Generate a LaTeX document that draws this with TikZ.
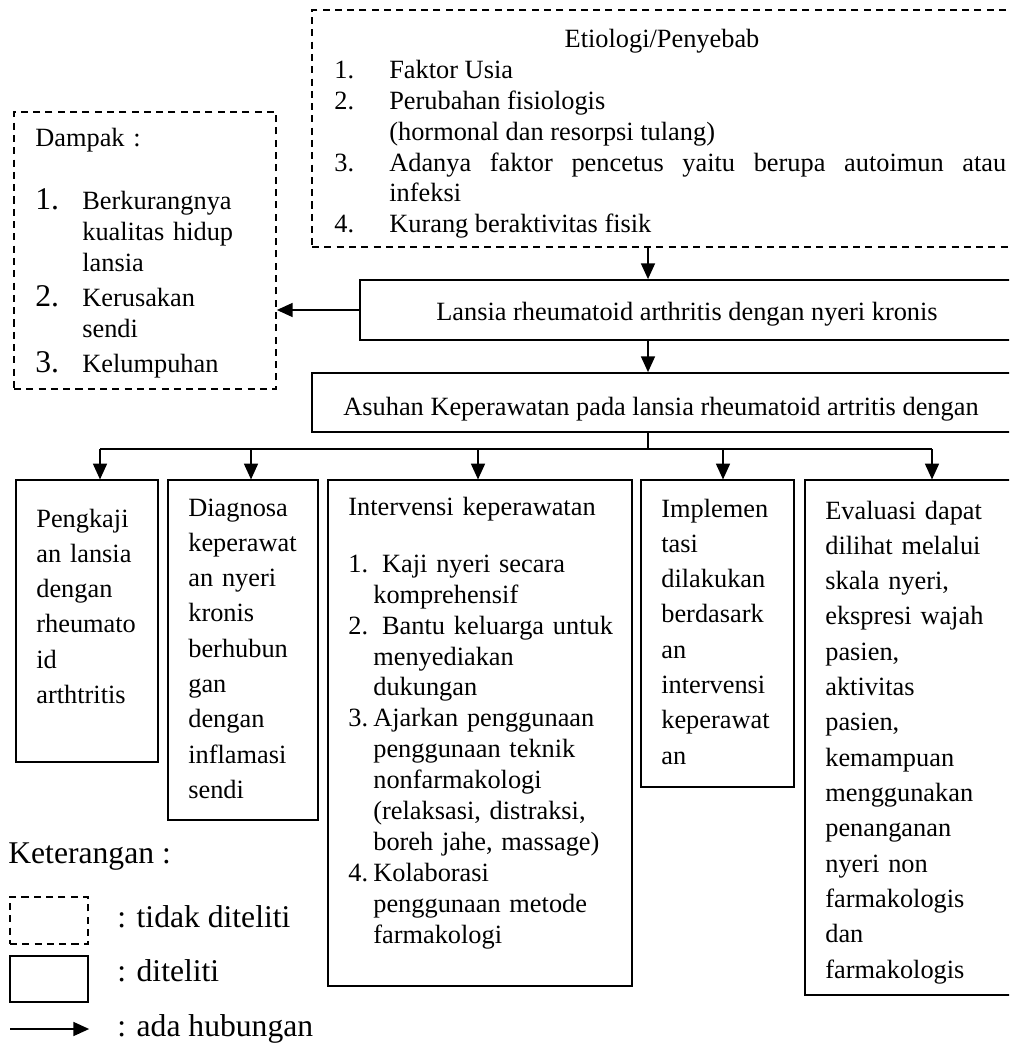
\documentclass[tikz,border=0pt]{standalone}
\usepackage{fontspec}
\setmainfont{Liberation Serif}
\usepackage{tikz}
\usetikzlibrary{arrows.meta, positioning, fit, calc}
\newcommand{\numpar}[3]{\hangindent=#1\hangafter=1\noindent\makebox[#1][l]{#2}#3\par}
\newcommand{\dnum}{\fontsize{18}{17.4}\selectfont}

\begin{document}
\begin{tikzpicture}[x=0.02cm, y=-0.02cm,
    box/.style={draw, line width=0.65pt, inner sep=0pt},
    mainbox/.style={box, line width=1pt},
    dbox/.style={box, line width=1pt, dash pattern=on 4pt off 3pt},
    lbl/.style={inner sep=0pt, font=\fontsize{15}{17.6}\selectfont},
    para/.style={anchor=base west, inner sep=0pt, align=left, font=\fontsize{15}{20.1}\selectfont},
    leg/.style={anchor=base west, inner sep=0pt, font=\fontsize{18}{21}\selectfont},
    arr/.style={-{Triangle[length=9pt, width=8pt]}, line width=0.85pt}]
  \useasboundingbox (0,0) rectangle (1009,1043);
  \clip (0,0) rectangle (1009,1043);
  % --- etiologi (not studied) ---------------------------------------
  \node[dbox, fit={(312,10) (1014,247)}] (etio) {};
  \node[lbl, anchor=base] (etiotitle) at (662,48) {Etiologi/Penyebab};
  \node[para, text width=13.44cm, align=justify, font=\fontsize{15}{17.5}\selectfont] (etiolist) at (334,79) {%
    \numpar{1.1cm}{1.}{Faktor Usia}%
    \numpar{1.1cm}{2.}{Perubahan fisiologis\newline (hormonal dan resorpsi tulang)}%
    \numpar{1.1cm}{3.}{Adanya faktor pencetus yaitu berupa autoimun atau\linebreak infeksi}%
    \numpar{1.1cm}{4.}{Kurang beraktivitas fisik}};
  % --- dampak (not studied) -----------------------------------------
  \node[dbox, fit={(14,112) (276,389)}] (dampak) {};
  \node[para, text width=4.8cm, font=\fontsize{15}{17.4}\selectfont] (dampaktext) at (35,147) {%
    \setlength{\parskip}{2.8pt}Dampak :\par\vspace{15.6pt}%
    \numpar{0.94cm}{\dnum 1.}{Berkurangnya\newline kualitas hidup\newline lansia}%
    \numpar{0.94cm}{\dnum 2.}{Kerusakan\newline sendi}%
    \numpar{0.94cm}{\dnum 3.}{Kelumpuhan}};
  % --- main chain ---------------------------------------------------
  \node[mainbox, fit={(360,280) (1014,340)}] (lansia) {};
  \node[lbl, anchor=base] (lansiatext) at (687,320) {Lansia rheumatoid arthritis dengan nyeri kronis};
  \node[mainbox, fit={(312,373) (1011,432)}] (asuhan) {};
  \node[lbl, anchor=base] (asuhantext) at (661,415) {Asuhan Keperawatan pada lansia rheumatoid artritis dengan};
  \coordinate (trunk) at (648,449);
  \draw[arr] (etio.south -| trunk) -- (lansia.north -| trunk);
  \draw[arr] (lansia.west) -- (dampak.east |- lansia.west);
  \draw[arr] (lansia.south -| trunk) -- (asuhan.north -| trunk);
  % --- nursing process boxes ----------------------------------------
  \node[box, fit={(16,480) (158,762)}] (peng) {};
  \node[box, fit={(168,480) (318,820)}] (diag) {};
  \node[box, fit={(328,480) (632,986)}] (interv) {};
  \node[box, fit={(641,480) (794,787)}] (impl) {};
  \node[box, fit={(805,480) (1015,995)}] (eval) {};
  \node[para, text width=2.6cm] (pengtext) at (36,527) {Pengkaji\\an lansia\\dengan\\rheumato\\id\\arthtritis};
  \node[para, text width=2.8cm] (diagtext) at (188,516) {Diagnosa\\keperawat\\an nyeri\\kronis\\berhubun\\gan\\dengan\\inflamasi\\sendi};
  \node[para, text width=5.8cm, font=\fontsize{15}{17.6}\selectfont] (intervtext) at (348,515) {%
    Intervensi keperawatan\par\vspace{15pt}%
    \numpar{0.5cm}{1.}{~Kaji nyeri secara\newline komprehensif}%
    \numpar{0.5cm}{2.}{~Bantu keluarga untuk\newline menyediakan\newline dukungan}%
    \numpar{0.5cm}{3.}{Ajarkan penggunaan\newline penggunaan teknik\newline nonfarmakologi\newline (relaksasi, distraksi,\newline boreh jahe, massage)}%
    \numpar{0.5cm}{4.}{Kolaborasi\newline penggunaan metode\newline farmakologi}};
  \node[para, text width=2.8cm] (impltext) at (661,517) {Implemen\\tasi\\dilakukan\\berdasark\\an\\intervensi\\keperawat\\an};
  \node[para, text width=3.6cm] (evaltext) at (825,519) {Evaluasi dapat\\dilihat melalui\\skala nyeri,\\ekspresi wajah\\pasien,\\aktivitas\\pasien,\\kemampuan\\menggunakan\\penanganan\\nyeri non\\farmakologis\\dan\\farmakologis};
  % branches
  \coordinate (bpeng) at (100,449);
  \coordinate (bdiag) at (251,449);
  \coordinate (bint)  at (478,449);
  \coordinate (bimp)  at (723,449);
  \coordinate (beval) at (932,449);
  \draw[line width=0.85pt] (asuhan.south -| trunk) -- (trunk);
  \draw[line width=0.85pt] (bpeng) -- (beval);
  \foreach \b/\n in {bpeng/peng, bdiag/diag, bint/interv, bimp/impl, beval/eval}
    \draw[arr] (\b) -- (\b |- \n.north);
  % --- legend -------------------------------------------------------
  \node[leg] (keterangan) at (8,863) {Keterangan :};
  \node[dbox, fit={(10,897) (88,944)}] (legdash) {};
  \node[box, line width=1.3pt, fit={(10,956) (88,1002)}] (legsolid) {};
  \coordinate (legarr) at (10,1029);
  \draw[arr] (legarr) -- (legarr -| legsolid.east);
  \node[leg] (legdashtext) at (117,927) {: tidak diteliti};
  \node[leg] (legsolidtext) at (117,981) {: diteliti};
  \node[leg] (legarrtext) at (117,1036) {: ada hubungan};
\end{tikzpicture}
\end{document}
